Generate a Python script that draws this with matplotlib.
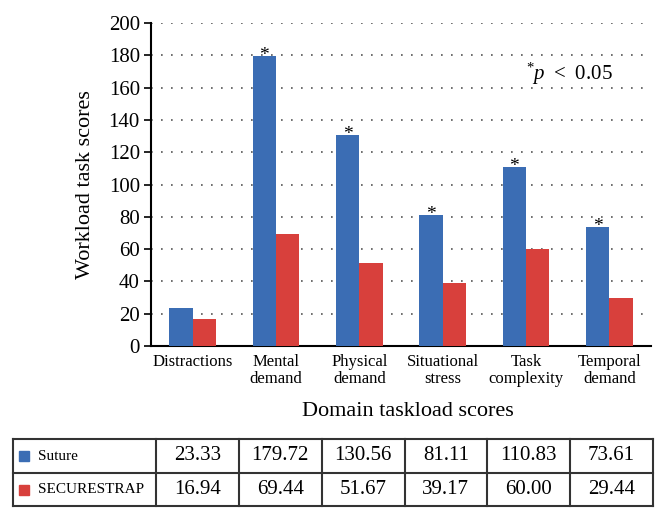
import numpy as np
import matplotlib.pyplot as plt

plt.rcParams['font.family'] = ['Liberation Serif', 'DejaVu Serif']
plt.rcParams['mathtext.fontset'] = 'custom'
plt.rcParams['mathtext.rm'] = 'Liberation Serif'
plt.rcParams['mathtext.it'] = 'Liberation Serif:italic'

categories = ['Distractions', 'Mental\ndemand', 'Physical\ndemand',
              'Situational\nstress', 'Task\ncomplexity', 'Temporal\ndemand']
suture = [23.33, 179.72, 130.56, 81.11, 110.83, 73.61]
securestrap = [16.94, 69.44, 51.67, 39.17, 60.00, 29.44]
significant = [False, True, True, True, True, True]
series_names = ['Suture', 'SECURESTRAP']
yticks = [0, 20, 40, 60, 80, 100, 120, 140, 160, 180, 200]

blue, red = '#3b6db4', '#d8403c'

fig = plt.figure(figsize=(6.68, 5.21), dpi=100)
ax = fig.add_axes([151/668, 1 - 346/521, 500/668, 323/521])

x = np.arange(len(categories))
w = 0.28
ax.bar(x - w/2, suture, w, color=blue, zorder=3)
ax.bar(x + w/2, securestrap, w, color=red, zorder=3)

# significance marks sit right on top of the suture bars
for xi, v, s in zip(x, suture, significant):
    if s:
        ax.text(xi - w/2, v - 2.5, '*', ha='center', va='baseline', fontsize=14,
                zorder=4)

ax.text(4.0, 165, '$^{*}p$ \u2009< \u20090.05', fontsize=15, ha='left',
        va='baseline')

ax.set_xlim(-0.5, len(categories) - 0.5)
ax.set_ylim(0, 200)
ax.set_yticks(yticks)
ax.set_xticks(x)
ax.set_xticklabels(categories, fontsize=12, linespacing=1.05)
ax.tick_params(axis='x', length=0, pad=6)
ax.tick_params(axis='y', labelsize=15, length=5, width=1.2, pad=3)
ax.yaxis.grid(True, linestyle=(0, (1, 5)), color='#555555', linewidth=1.2, zorder=0)
for sp in ['top', 'right']:
    ax.spines[sp].set_visible(False)
ax.spines['left'].set_linewidth(1.5)
ax.spines['bottom'].set_linewidth(1.5)
ax.set_ylabel('Workload task scores', fontsize=16, labelpad=10)

fig.text(408/668, 1 - 412/521, 'Domain taskload scores', fontsize=16,
         ha='center', va='center')

# data table under the chart (pixel coordinates)
tab = fig.add_axes([0, 0, 1, 1], zorder=-1)
tab.set_xlim(0, 668)
tab.set_ylim(521, 0)
tab.axis('off')
left, first, right = 13, 156, 653
top, mid, bot = 439, 473, 506
cols = np.linspace(first, right, len(categories) + 1)
lc = '#333333'
for yy in [top, mid, bot]:
    tab.plot([left, right], [yy, yy], color=lc, lw=1.5)
for xx in [left] + list(cols):
    tab.plot([xx, xx], [top, bot], color=lc, lw=1.5)
rows = [(suture, blue), (securestrap, red)]
for r, ((vals, c), name) in enumerate(zip(rows, series_names)):
    yc = (top + mid) / 2 if r == 0 else (mid + bot) / 2
    tab.add_patch(plt.Rectangle((19, yc - 5), 10, 10, color=c))
    tab.text(38, yc, name, fontsize=11, ha='left', va='center')
    for j, v in enumerate(vals):
        tab.text((cols[j] + cols[j + 1]) / 2, yc, f'{v:.2f}', fontsize=15,
                 ha='center', va='center')

fig.savefig('out.png', dpi=100)
